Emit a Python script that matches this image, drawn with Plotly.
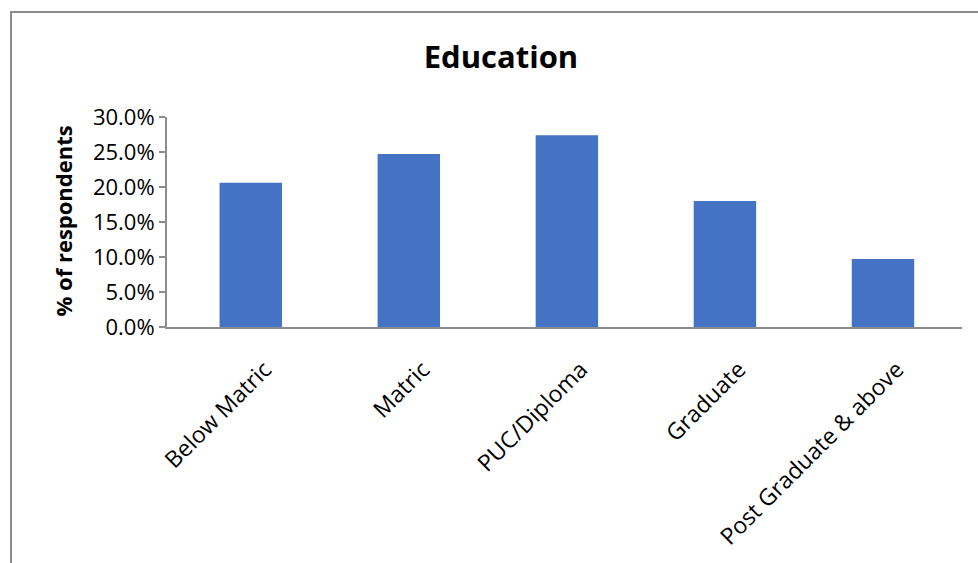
import plotly.graph_objects as go

categories = ["Below Matric", "Matric", "PUC/Diploma", "Graduate", "Post Graduate & above"]
values = [0.206, 0.247, 0.274, 0.180, 0.097]
y_ticks = [0.0, 0.05, 0.10, 0.15, 0.20, 0.25, 0.30]

W, H = 978, 563
L, R, T, B = 167, 16, 117, 236
pw = W - L - R
ph = H - T - B

def px_x(p):
    return (p - L) / pw

def px_y(p):
    return (H - B - p) / ph

fig = go.Figure()
fig.add_trace(go.Bar(x=categories, y=values, marker=dict(color="#4472C4", line=dict(width=0)),
                     width=0.395))

fig.update_layout(
    width=W, height=H,
    margin=dict(l=L, r=R, t=T, b=B, autoexpand=False),
    paper_bgcolor="white", plot_bgcolor="white",
    showlegend=False,
    font=dict(family="Open Sans", color="#000000"),
    title=dict(text="<b>Education</b>", x=501 / W, xref="container", xanchor="center",
               y=1 - 57 / H, yref="container", yanchor="middle",
               font=dict(size=31, family="Open Sans", color="#000000")),
)
fig.update_xaxes(
    range=[-0.53, 4.5], showgrid=False, showline=True, linecolor="#8c8c8c", linewidth=2,
    ticks="", tickangle=-45, tickfont=dict(size=23, family="Open Sans", color="#000000"),
    ticklabelstandoff=18, ticklabelshift=14, automargin=False, zeroline=False,
)
fig.update_yaxes(
    range=[0, 0.30], tickvals=y_ticks, tickformat=".1%", showgrid=False, showline=True,
    linecolor="#8c8c8c", linewidth=2, ticks="outside", ticklen=6, tickcolor="#8c8c8c", tickwidth=2,
    tickfont=dict(size=22, family="Open Sans", color="#000000"), automargin=False, zeroline=False,
)
fig.add_annotation(text="<b>% of respondents</b>", xref="paper", yref="paper",
                   x=px_x(62), y=px_y(221.5), textangle=-90, showarrow=False,
                   xanchor="center", yanchor="middle",
                   font=dict(size=22, family="Open Sans", color="#000000"))
fig.add_shape(type="rect", xref="paper", yref="paper",
              x0=px_x(11), x1=px_x(1000), y0=px_y(600), y1=px_y(12),
              line=dict(color="#8c8c8c", width=2), fillcolor="rgba(0,0,0,0)", layer="above")

fig.write_html("out.html")
